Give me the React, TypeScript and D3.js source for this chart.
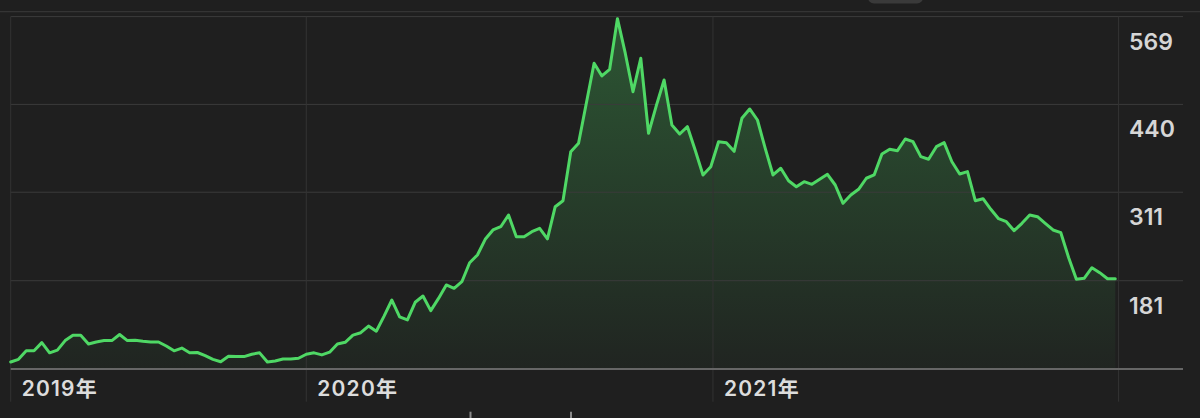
import * as d3 from "d3";

// weekly closes, first week of April 2019 through end of 2021
const startDate = new Date(2019, 3, 10);
const endDate = new Date(2022, 0, 1);

const closes = [
  61.5, 65.5, 78, 78, 90, 75, 79, 93, 101, 101, 88, 91, 93, 93, 102, 93, 93.5, 92, 91, 91,
  85, 78, 82, 75, 75.5, 71, 65.5, 62, 70, 69.5, 69.5, 73, 75, 61.5, 63, 66, 66, 67,
  73, 75, 72, 76, 88, 90.5, 101, 104.6, 114.4, 106.7, 129, 152.6, 128, 123.3, 149.3, 158.5,
  137, 155, 174.7, 169.8, 179.5, 207.4, 218.8, 241.8, 255.5, 260.3, 277.5, 245.6, 245.6, 253,
  258, 242.5,
  289.7, 298.5, 370.5, 382.9, 441.7, 500.4, 481.8, 491.6, 566, 515.6, 458.7, 507.8, 397.6,
  438.1, 475.9, 409.8, 396.5, 407.3, 372.6, 336.3, 348.5, 385.2, 383.8, 371.1,
  419.6, 433.3, 417.1, 375.5, 336.3, 346.2, 327.9, 319.1, 326.5, 322.6, 330, 337.3, 321.6,
  294.7, 306.9, 315.3, 331.5, 336.3, 367.2, 374.1, 372, 389.2, 385.2, 363.2, 359.5, 377.9,
  383.8, 355.8, 337.8, 341.2, 298.5, 301.5, 285.9, 272.1, 267.7, 254.5, 265.3, 277.5, 275,
  265.3, 255.5, 251.5, 215.1, 183, 184.5, 200.1, 192.8, 183.9, 183.9,
];

const priceTicks = [569, 440, 311, 181];
const yearTickDates = [startDate, new Date(2020, 0, 1), new Date(2021, 0, 1), endDate];
const yearLabels = ["2019年", "2020年", "2021年"];

const W = 1200;
const H = 418;
const left = 10.7;
const plotRight = 1118.6;
const gridRight = 1183;
const top = 16.6;
const bottom = 368.5;

type Pt = { date: Date; value: number };

export default function App() {
  const points: Pt[] = closes.map((value, i) => ({
    date: d3.timeDay.offset(startDate, i * 7),
    value,
  }));

  const x = d3.scaleTime().domain([startDate, endDate]).range([left, plotRight]);
  const y = d3.scaleLinear().domain([52, 569]).range([bottom, top]);

  const line = d3
    .line<Pt>()
    .x((d) => x(d.date))
    .y((d) => y(d.value));

  const area = d3
    .area<Pt>()
    .x((d) => x(d.date))
    .y0(bottom)
    .y1((d) => y(d.value));

  const font = "Inter, 'Noto Sans CJK SC', 'Noto Sans', sans-serif";

  return (
    <svg
      width={W}
      height={H}
      style={{ position: "absolute", left: 0, top: 0, display: "block" }}
    >
      <defs>
        <linearGradient id="fillGrad" x1="0" y1={top} x2="0" y2={bottom} gradientUnits="userSpaceOnUse">
          <stop offset="0%" stopColor="#4cd964" stopOpacity={0.3} />
          <stop offset="100%" stopColor="#4cd964" stopOpacity={0.03} />
        </linearGradient>
      </defs>
      <rect width={W} height={H} fill="#1f1f1f" />

      {/* top strip */}
      <rect x={868} y={-10} width={55} height={13.5} rx={6} fill="#3a3a3a" />
      <line x1={0} x2={W} y1={11.7} y2={11.7} stroke="#3a3a3a" strokeWidth={1} />

      <path d={area(points) || ""} fill="url(#fillGrad)" />

      {/* horizontal grid */}
      {priceTicks.map((v) => (
        <line key={v} x1={left} x2={gridRight} y1={y(v)} y2={y(v)} stroke="#3b3b3b" strokeWidth={1} />
      ))}

      {/* vertical grid */}
      {yearTickDates.map((d, i) => (
        <line
          key={i}
          x1={x(d)}
          x2={x(d)}
          y1={top}
          y2={401.7}
          stroke="#333333"
          strokeWidth={1}
        />
      ))}

      <line x1={left} x2={gridRight} y1={369} y2={369} stroke="#666666" strokeWidth={2} />

      <path
        d={line(points) || ""}
        fill="none"
        stroke="#4fd865"
        strokeWidth={3}
        strokeLinejoin="round"
        strokeLinecap="round"
      />

      {priceTicks.map((v) => (
        <text
          key={v}
          x={1129}
          y={y(v) + 33}
          fill="#d6d6d6"
          fontFamily={font}
          fontWeight={600}
          fontSize={23}
        >
          {v}
        </text>
      ))}

      {yearLabels.map((t, i) => (
        <text
          key={t}
          x={x(yearTickDates[i]) + 11}
          y={395.7}
          fill="#dcdcdc"
          fontFamily={font}
          fontWeight={600}
          fontSize={21}
          letterSpacing={1.2}
        >
          {t}
        </text>
      ))}

      {/* clipped control marks at bottom edge */}
      <line x1={470.5} x2={470.5} y1={411.7} y2={H} stroke="#8a8a8a" strokeWidth={2} />
      <line x1={571} x2={571} y1={411.7} y2={H} stroke="#8a8a8a" strokeWidth={2} />
    </svg>
  );
}
